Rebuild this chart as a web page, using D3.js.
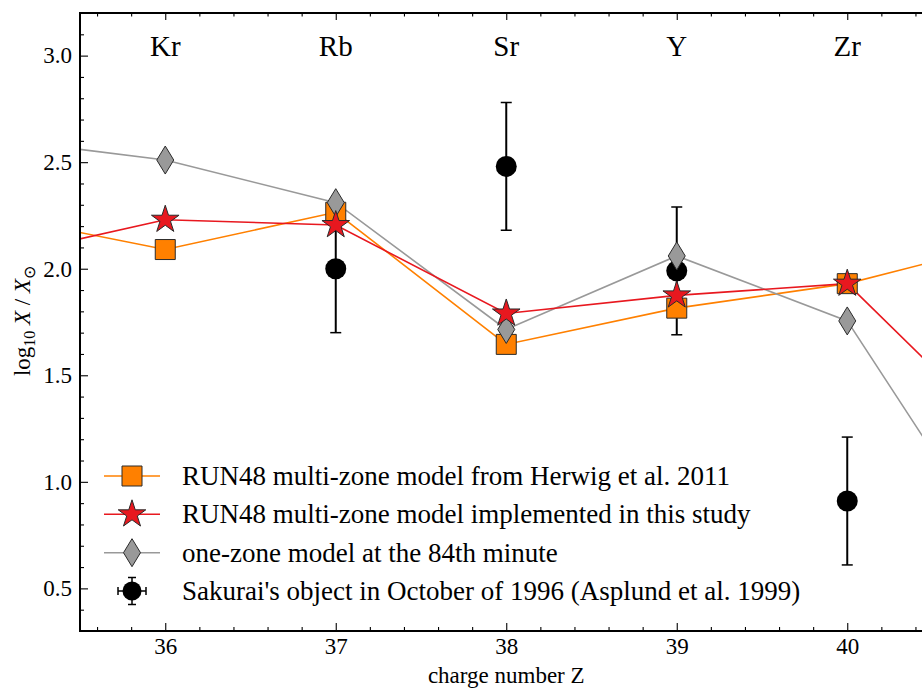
<!DOCTYPE html>
<html><head><meta charset="utf-8">
<script src="https://cdn.jsdelivr.net/npm/d3@7"></script>
<style>body{margin:0;background:#fff} svg{display:block} svg text{font-family:"Liberation Serif","Times New Roman",serif !important;}</style>
</head><body><svg id="c" width="922" height="690"></svg>
<script>
// ---- data ----
const zAll = [35, 36, 37, 38, 39, 40, 41];
const herwig = [2.25, 2.09, 2.265, 1.645, 1.815, 1.93, 2.135];
const thisStudy = [2.05, 2.23, 2.205, 1.79, 1.875, 1.93, 1.145];
const oneZone = [2.61, 2.51, 2.31, 1.715, 2.06, 1.755, 0.53];
const obsZ = [37, 38, 39, 40];
const obsVal = [2.00, 2.48, 1.99, 0.91];
const obsErr = [0.30, 0.30, 0.30, 0.30];
const elemZ = [36, 37, 38, 39, 40];
const elemNames = ["Kr", "Rb", "Sr", "Y", "Zr"];
const xTicks = [36, 37, 38, 39, 40];
const yTicks = [0.5, 1.0, 1.5, 2.0, 2.5, 3.0];
const legendLabels = [
  "RUN48 multi-zone model from Herwig et al. 2011",
  "RUN48 multi-zone model implemented in this study",
  "one-zone model at the 84th minute",
  "Sakurai's object in October of 1996 (Asplund et al. 1999)"
];

// ---- layout ----
const L = 80, R = 932.5, T = 13, B = 631;
const FONT = "'Liberation Serif','Times New Roman',serif";
const x = d3.scaleLinear().domain([35.5, 40.5]).range([L, R]);
const y = d3.scaleLinear().domain([0.3, 3.2]).range([B, T]);
const svg = d3.select("#c");
svg.append("rect").attr("width", 922).attr("height", 690).attr("fill", "#fff");

svg.append("defs").append("clipPath").attr("id", "clip")
  .append("rect").attr("x", L).attr("y", T).attr("width", R - L).attr("height", B - T);

const cOrange = "#ff8000", cRed = "#e8181f", cGray = "#999999";
const mStroke = "#2a2a2a";

// markers
const starPath = d3.symbol().type(d3.symbolStar).size(236)();
const sqPath = d3.symbol().type(d3.symbolSquare).size(400)();
const diaPath = "M0,-14L8.5,0L0,14L-8.5,0Z";

const plot = svg.append("g").attr("clip-path", "url(#clip)");

// observations (under everything)
const obs = plot.append("g");
obsZ.forEach((z, i) => {
  const g = obs.append("g");
  const x0 = x(z), y1 = y(obsVal[i] + obsErr[i]), y2 = y(obsVal[i] - obsErr[i]);
  g.append("line").attr("x1", x0).attr("x2", x0).attr("y1", y1).attr("y2", y2)
    .attr("stroke", "#000").attr("stroke-width", 2);
  [y1, y2].forEach(yy => g.append("line").attr("x1", x0 - 5.5).attr("x2", x0 + 5.5)
    .attr("y1", yy).attr("y2", yy).attr("stroke", "#000").attr("stroke-width", 1.5));
  g.append("circle").attr("cx", x0).attr("cy", y(obsVal[i])).attr("r", 10.5).attr("fill", "#000");
});

const line = d3.line().x((d, i) => x(zAll[i])).y(d => y(d));
const series = [
  {vals: herwig, color: cOrange, path: sqPath, fill: cOrange},
  {vals: oneZone, color: cGray, path: diaPath, fill: cGray},
  {vals: thisStudy, color: cRed, path: starPath, fill: cRed}
];
series.forEach(s => {
  plot.append("path").attr("d", line(s.vals)).attr("fill", "none")
    .attr("stroke", s.color).attr("stroke-width", 1.6);
});
series.forEach(s => {
  plot.append("g").selectAll("path").data(s.vals).join("path")
    .attr("d", s.path)
    .attr("transform", (d, i) => `translate(${x(zAll[i])},${y(d)})`)
    .attr("fill", s.fill).attr("stroke", mStroke).attr("stroke-width", 1);
});

// ---- axes ----
const minorX = d3.range(35.6, 40.5, 0.2).filter(v => Math.abs(v - Math.round(v)) > 0.01);
const minorY = d3.range(0.4, 3.2, 0.1).filter(v => Math.abs(v * 2 - Math.round(v * 2)) > 0.01);

function styleAxis(g) {
  g.attr("font-family", null).attr("font-size", null);
  g.selectAll("path.domain").remove();
  g.selectAll(".tick line").attr("stroke", "#000").attr("stroke-width", 1.1);
  g.selectAll("text").style("font-family", FONT).style("font-size", "23px").attr("fill", "#000");
}
svg.append("g").attr("transform", `translate(0,${B})`)
  .call(d3.axisBottom(x).tickValues(xTicks).tickFormat(d3.format("d")).tickSizeInner(-8).tickSizeOuter(0).tickPadding(7))
  .call(styleAxis);
svg.append("g").attr("transform", `translate(0,${B})`)
  .call(d3.axisBottom(x).tickValues(minorX).tickFormat("").tickSizeInner(-4).tickSizeOuter(0))
  .call(styleAxis);
svg.append("g").attr("transform", `translate(0,${T})`)
  .call(d3.axisTop(x).tickValues(xTicks).tickFormat("").tickSizeInner(-7).tickSizeOuter(0))
  .call(styleAxis);
svg.append("g").attr("transform", `translate(0,${T})`)
  .call(d3.axisTop(x).tickValues(minorX).tickFormat("").tickSizeInner(-3.5).tickSizeOuter(0))
  .call(styleAxis);
svg.append("g").attr("transform", `translate(${L},0)`)
  .call(d3.axisLeft(y).tickValues(yTicks).tickFormat(d3.format(".1f")).tickSizeInner(-8).tickSizeOuter(0).tickPadding(8))
  .call(styleAxis);
svg.append("g").attr("transform", `translate(${L},0)`)
  .call(d3.axisLeft(y).tickValues(minorY).tickFormat("").tickSizeInner(-4).tickSizeOuter(0))
  .call(styleAxis);

// frame
svg.append("path").attr("d", `M${R},${T}H${L}V${B}H${R}`).attr("fill", "none")
  .attr("stroke", "#000").attr("stroke-width", 2);

// element labels
svg.append("g").selectAll("text").data(elemZ).join("text")
  .attr("x", d => x(d)).attr("y", y(3.0))
  .attr("text-anchor", "middle").style("font-family", FONT).style("font-size", "29px")
  .text((d, i) => elemNames[i]);

// axis titles
svg.append("text").attr("x", x(38)).attr("y", 683).attr("text-anchor", "middle")
  .style("font-family", FONT).style("font-size", "23px").text("charge number Z");

const yl = svg.append("text").attr("transform", "translate(30,321) rotate(-90)")
  .attr("text-anchor", "middle").style("font-family", FONT).style("font-size", "23px");
yl.append("tspan").text("log");
yl.append("tspan").style("font-size", "16px").attr("dy", 5).text("10");
yl.append("tspan").attr("dy", -5).text(" ");
yl.append("tspan").style("font-style", "italic").text("X");
yl.append("tspan").text(" / ");
yl.append("tspan").style("font-style", "italic").text("X");
yl.append("tspan").style("font-size", "16px").attr("dy", 5).text("⊙");

// ---- legend ----
const legY = [476, 514.3, 552.7, 591];
const lg = svg.append("g");
const legSeries = [series[0], series[2], series[1]];
legSeries.forEach((s, i) => {
  lg.append("line").attr("x1", 104).attr("x2", 160).attr("y1", legY[i]).attr("y2", legY[i])
    .attr("stroke", s.color).attr("stroke-width", 1.6);
  lg.append("path").attr("d", s.path).attr("transform", `translate(132,${legY[i]})`)
    .attr("fill", s.fill).attr("stroke", mStroke).attr("stroke-width", 1);
});
{
  const cy = legY[3], cx = 132;
  lg.append("line").attr("x1", cx - 14).attr("x2", cx + 14).attr("y1", cy).attr("y2", cy).attr("stroke", "#000").attr("stroke-width", 1.5);
  lg.append("line").attr("x1", cx).attr("x2", cx).attr("y1", cy - 13.5).attr("y2", cy + 13.5).attr("stroke", "#000").attr("stroke-width", 1.5);
  [[cx - 14, cx - 14, cy - 4, cy + 4], [cx + 14, cx + 14, cy - 4, cy + 4], [cx - 4, cx + 4, cy - 13.5, cy - 13.5], [cx - 4, cx + 4, cy + 13.5, cy + 13.5]]
    .forEach(a => lg.append("line").attr("x1", a[0]).attr("x2", a[1]).attr("y1", a[2]).attr("y2", a[3]).attr("stroke", "#000").attr("stroke-width", 1.5));
  lg.append("circle").attr("cx", cx).attr("cy", cy).attr("r", 9.5).attr("fill", "#000");
}
lg.selectAll("text").data(legendLabels).join("text")
  .attr("x", 182).attr("y", (d, i) => legY[i] + 9)
  .style("font-family", FONT).style("font-size", "27px").text(d => d);
</script></body></html>
